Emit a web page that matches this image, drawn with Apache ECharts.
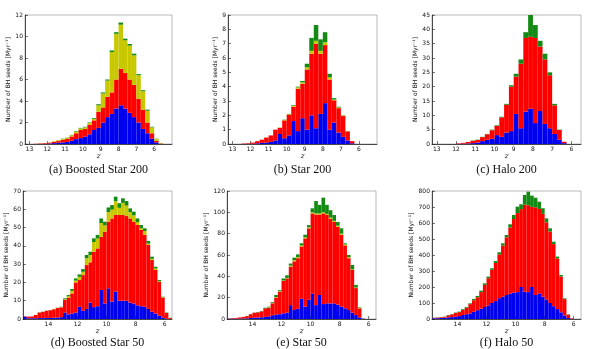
<!DOCTYPE html>
<html>
<head>
<meta charset="utf-8">
<script src="https://cdn.jsdelivr.net/npm/echarts@6/dist/echarts.min.js"></script>
<style>
html,body{margin:0;padding:0;background:#fff;}
#chart{width:600px;height:349px;}
</style>
</head>
<body>
<div id="chart"></div>
<script>
// bin centres in z (bins 0.25 wide)
var zTop = [13.125,12.875,12.625,12.375,12.125,11.875,11.625,11.375,11.125,10.875,10.625,10.375,10.125,9.875,9.625,9.375,9.125,8.875,8.625,8.375,8.125,7.875,7.625,7.375,7.125,6.875,6.625,6.375,6.125,5.875,5.625,5.375,5.125];
var zHalo200 = [13.125,12.875,12.625,12.375,12.125,11.875,11.625,11.375,11.125,10.875,10.625,10.375,10.125,9.875,9.625,9.375,9.125,8.875,8.625,8.375,8.125,7.875,7.625,7.375,7.125,6.875,6.625,6.375,6.125,5.875,5.625];
var zBottom = [15.625,15.375,15.125,14.875,14.625,14.375,14.125,13.875,13.625,13.375,13.125,12.875,12.625,12.375,12.125,11.875,11.625,11.375,11.125,10.875,10.625,10.375,10.125,9.875,9.625,9.375,9.125,8.875,8.625,8.375,8.125,7.875,7.625,7.375,7.125,6.875,6.625,6.375,6.125,5.875,5.625];

// tick labels
var zTicksTop = [6,7,8,9,10,11,12,13];
var zTicksBottom = [6,8,10,12,14];

// (a) Boosted Star 200
var aBlue   = [0,0,0,.01,.02,.05,.08,.12,.15,.2,.3,.45,.55,.7,.9,1.3,1.5,2.0,2.5,2.8,3.3,3.6,3.3,2.9,2.5,2.0,1.4,1.0,.5,.15,.02,0,0];
var aRed    = [0,0,.02,.04,.06,.07,.12,.18,.25,.3,.4,.55,.75,.7,.9,.9,1.5,1.4,1.9,2.0,2.7,3.4,3.3,3.1,3.0,2.2,1.8,1.0,.5,.15,.03,0,0];
var aYellow = [0,0,0,.01,.02,.03,.05,.05,.08,.08,.12,.15,.15,.15,.15,.12,.6,1.3,1.5,3.75,4.25,4.1,3.05,3.15,2.75,2.2,1.7,1.1,.55,.18,.05,0,0];
var aGreen  = [0,0,0,0,0,0,0,0,.02,.02,.03,.05,.05,.05,.05,.08,.1,.1,.1,.15,.15,.2,.15,.15,.15,.1,.1,.1,.05,.02,0,0,0];

// (b) Star 200
var bBlue   = [0,0,0,0,.01,.02,.05,.08,.1,.15,.25,.7,.4,.6,1.6,.9,1.8,1.0,2.0,1.1,2.1,2.85,1.0,1.5,.8,.5,.25,.05,0,0,0,0,0];
var bRed    = [0,0,0,.03,.04,.08,.15,.22,.35,.45,.75,.42,1.25,1.45,1.0,2.95,2.4,4.2,4.3,5.9,4.2,4.05,3.5,1.55,1.7,1.45,.63,.15,0,0,0,0,0];
var bYellow = [0,0,0,0,0,0,0,0,0,0,0,.02,.03,.03,.05,.1,.1,.15,.2,.2,.2,.2,.15,.05,.05,.03,.01,0,0,0,0,0,0];
var bGreen  = [0,0,0,0,0,0,0,0,0,0,0,.01,.02,.02,.05,.05,.1,.25,.9,1.1,.8,.7,.25,.1,.05,.02,.01,0,0,0,0,0,0];

// (c) Halo 200
var cBlue  = [0,0,0,0,0,.05,.1,.2,.3,.5,1.0,1.5,1.8,3.1,2.5,4.0,4.5,10.5,5.5,11.3,12.3,7.3,11.5,7.0,5.5,3.5,1.5,.3,0,0,0];
var cRed   = [0,0,0,0,0,.15,.3,.5,.8,.9,1.4,1.9,3.0,3.2,6.8,9.7,15.5,13,22.5,25.7,25.1,29.7,22.5,22.5,18.5,10,3.4,.5,0,0,0];
var cGreen = [0,0,0,0,0,0,0,0,.1,.1,.1,.1,.2,.2,.2,.3,.5,1,1.5,2,7.6,4.5,2,2,1,.5,.1,0,0,0,0];

// (d) Boosted Star 50
var dBlue   = [1.3,.4,.4,.4,.5,.5,.6,.6,.7,.8,1.0,3.6,2.5,3.0,3.5,6.7,4.5,5.5,9.0,6.5,7.0,15.9,8.5,16.8,9.5,15.0,10.0,10.0,10.0,9.0,8.5,7.5,7.0,6.7,5.5,4.0,3.0,1.8,.7,.2,0];
var dRed    = [.2,.9,1.0,1.8,3.0,3.4,3.9,4.2,4.6,5.2,5.4,6.8,9.0,11.0,16.5,14.6,19.5,24.0,22.0,30.3,31.6,29.1,39.3,36.4,45.5,41.9,46.9,46.9,46.3,46.0,44.7,43.9,41.7,39.3,35.0,28.3,23.8,18.6,11.0,3.1,.5];
var dYellow = [0,0,0,0,0,0,.05,.05,.1,.1,.2,.4,.9,1.4,1.0,1.8,1.8,3.7,4.0,5.3,5.4,7.5,3.4,5.3,4.8,7.5,3.9,6.6,5.7,3.5,3.5,1.6,.9,2.1,.7,.6,.8,.3,.2,.1,.1];
var dGreen  = [0,0,0,0,.1,.1,.05,.05,.1,.1,.1,.5,.7,1.0,1.2,1.3,1.5,1.8,1.8,2.0,2.0,2.5,2.0,2.5,2.5,2.5,2.5,2.5,2.5,2.0,2.0,2.0,1.8,1.5,1.5,1.2,1.0,.6,.3,.2,.1];

// (e) Star 50
var eBlue   = [.3,.3,.3,.4,.5,.6,1,1.2,1.4,1.6,2,2.5,3.5,4,4.5,5.3,6,13,8.4,9.5,19,11.6,18,24,13,22.5,14,14.7,14.5,14.7,13.5,11.6,10,8.4,6,3.8,1.5,.2,0,0,0];
var eRed    = [.2,.5,.7,1.1,1.5,2.1,3.5,4.6,4.8,5.6,8,8.1,11.2,16,21.1,30.3,32,36,45.6,47.5,49,64,67,75,85,75.5,85,82.8,79.5,76.3,73,67.4,59,48.6,40,25.2,8.5,.2,0,0,0];
var eYellow = [0,0,0,0,0,0,0,0,0,0,0,.5,.5,.5,.5,.5,.5,1,1,1,1,1,1,1,1,1,1,1,1,1,1,1,1,1,.5,.5,.5,0,0,0,0];
var eGreen  = [0,0,0,0,0,.1,.2,.2,.3,.3,.6,.5,.8,2,.9,1.9,2.5,2,2.5,2.6,2,2.4,2,3.75,11.6,8,13.75,8.5,7,5.5,3.5,5,1,2,4.1,2.5,.5,.1,0,0,0];

// (f) Halo 50
var fBlue  = [5,5,6,8,10,12,15,18,25,30,35,45,55,65,75,85,100,112,130,140,150,158,165,168,200,170,168,200,150,160,140,122,100,80,62,42,22,6,1,0,0];
var fRed   = [2,4,5,5,13,17,22,25,33,40,58,72,81,103,138,170,207,238,274,319,360,414,460,494,487,545,543,501,548,528,517,482,447,388,316,223,102,21,3,0,0];
var fGreen = [1,1,1,2,2,2,3,3,4,5,5,8,8,9,10,10,10,12,13,14,15,20,25,40,30,60,85,70,60,45,35,25,20,15,12,10,5,2,0,0,0];

var colors = ['#0000f0', '#ff0000', '#c8c800', '#138a13'];
var yName = 'Number of BH seeds [Myr\u207B\u00B9]';

// bins are 0.25 wide, so the value axis runs edge to edge of the bins
var panels = [
  {cap: '(a) Boosted Star 200', box: [25, 15, 147, 129], z: zTop, ticks: zTicksTop, ymax: 12, yint: 2, s: [aBlue, aRed, aYellow, aGreen]},
  {cap: '(b) Star 200', box: [228, 15, 149, 129], z: zTop, ticks: zTicksTop, ymax: 9, yint: 1, s: [bBlue, bRed, bYellow, bGreen]},
  {cap: '(c) Halo 200', box: [432, 15, 149, 129], z: zHalo200, ticks: zTicksTop, ymax: 45, yint: 5, s: [cBlue, cRed, null, cGreen]},
  {cap: '(d) Boosted Star 50', box: [23, 191, 149, 128], z: zBottom, ticks: zTicksBottom, ymax: 70, yint: 10, s: [dBlue, dRed, dYellow, dGreen]},
  {cap: '(e) Star 50', box: [227, 191, 149, 128], z: zBottom, ticks: zTicksBottom, ymax: 120, yint: 20, s: [eBlue, eRed, eYellow, eGreen]},
  {cap: '(f) Halo 50', box: [432, 191, 149, 128], z: zBottom, ticks: zTicksBottom, ymax: 800, yint: 100, s: [fBlue, fRed, null, fGreen]}
];

var grids = [], xAxes = [], yAxes = [], series = [], texts = [];

panels.forEach(function (p, i) {
  var b = p.box;
  var hi = p.z[0] + 0.125, lo = p.z[p.z.length - 1] - 0.125;
  grids.push({left: b[0], top: b[1], width: b[2], height: b[3], show: true, borderColor: '#8a8a8a', borderWidth: 0.6, backgroundColor: 'transparent'});
  // hidden category axis carrying the bins
  xAxes.push({
    gridIndex: i, type: 'category', position: 'top', data: p.z.map(String), boundaryGap: true,
    axisLine: {show: false}, axisTick: {show: false}, axisLabel: {show: false}, splitLine: {show: false}
  });
  // visible z axis
  xAxes.push({
    gridIndex: i, type: 'value', position: 'bottom', inverse: true, min: lo, max: hi,
    axisLine: {show: true, onZero: false, lineStyle: {color: '#222', width: 0.8}},
    axisTick: {show: true, inside: true, length: 3, customValues: p.ticks, lineStyle: {color: '#222', width: 0.6}},
    axisLabel: {customValues: p.ticks, fontSize: 6, margin: 2, color: '#111', fontFamily: 'DejaVu Sans'},
    splitLine: {show: false},
    name: 'z', nameLocation: 'middle', nameGap: 9,
    nameTextStyle: {fontSize: 7, color: '#111', fontStyle: 'italic', fontFamily: 'DejaVu Serif'}
  });
  yAxes.push({
    gridIndex: i, type: 'value', min: 0, max: p.ymax, interval: p.yint,
    axisLine: {show: true, lineStyle: {color: '#222', width: 0.8}},
    axisTick: {show: true, inside: true, length: 3, lineStyle: {color: '#222', width: 0.6}},
    axisLabel: {fontSize: 6, margin: 2, color: '#111', fontFamily: 'DejaVu Sans'},
    splitLine: {show: false},
    name: yName, nameLocation: 'middle', nameGap: p.ymax >= 100 ? 14 : 10,
    nameTextStyle: {fontSize: 6, color: '#111', fontFamily: 'DejaVu Sans'}
  });
  p.s.forEach(function (arr, k) {
    if (!arr) return;
    series.push({
      type: 'bar', xAxisIndex: 2 * i, yAxisIndex: i, stack: 'p' + i,
      barCategoryGap: '0%', silent: true,
      itemStyle: {color: colors[k]},
      data: arr
    });
  });
  texts.push({
    type: 'text', x: b[0] + b[2] / 2, y: i < 3 ? 170 : 343,
    style: {text: p.cap, align: 'center', verticalAlign: 'middle', font: '12px "Liberation Serif"', fill: '#111'}
  });
});

var chart = echarts.init(document.getElementById('chart'), null, {renderer: 'canvas'});
chart.setOption({
  animation: false,
  backgroundColor: '#fff',
  grid: grids,
  xAxis: xAxes,
  yAxis: yAxes,
  series: series,
  graphic: texts
});
</script>
</body>
</html>
